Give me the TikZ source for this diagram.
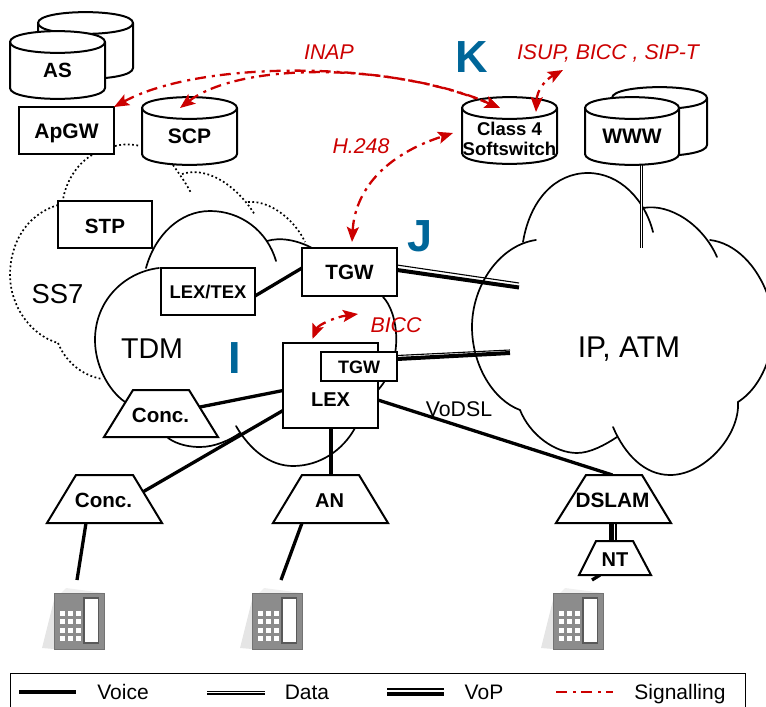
\documentclass[tikz,border=0pt]{standalone}
\usepackage{fontspec}
\setmainfont{Liberation Sans}
\usetikzlibrary{arrows.meta}
\pgfdeclarelayer{back}
\pgfsetlayers{back,main}
\definecolor{sigred}{HTML}{CC0000}
\definecolor{lblblue}{HTML}{006699}
\tikzset{
  boxnode/.style={draw=black,fill=white,line width=2pt,rectangle,inner sep=0pt,outer sep=0pt,minimum width=#1},
  cyltext/.style={inner sep=0pt,outer sep=0pt,minimum width=95pt,rectangle},
  traptext/.style={inner sep=0pt,outer sep=0pt,rectangle,minimum width=#1},
  trapline/.style={draw=black,fill=white,line width=2pt,line join=miter},
  bl/.style={text height=#1,text depth=0pt},
  bold/.style={font=\fontsize{#1}{#1}\selectfont\bfseries},
  cylline/.style={draw=black,fill=white,line width=2pt},
  cloudline/.style={draw=black,line width=1.7pt,line cap=round},
  ssline/.style={draw=black,line width=1.7pt,dash pattern=on 1.8pt off 2.5pt},
  voice/.style={draw=black,line width=#1},
  voice/.default=3.3pt,
  vopthick/.style={draw=black,line width=4pt},
  vopthin/.style={draw=black,line width=1.1pt},
  dataline/.style={draw=black,double=white,line width=1.2pt,double distance=1.2pt},
  signal/.style={draw=sigred,line width=2.3pt,dash pattern=on 11pt off 6pt on 3pt off 5pt,{Stealth[length=15pt,width=12pt,inset=3pt]}-{Stealth[length=15pt,width=12pt,inset=3pt]}},
  siglabel/.style={text=sigred,anchor=base,inner sep=0pt,font=\fontsize{21.3}{23}\selectfont\itshape},
  biglabel/.style={text=lblblue,anchor=base,inner sep=0pt,font=\fontsize{45}{47}\selectfont\bfseries},
  plainlabel/.style={anchor=base,inner sep=0pt,font=\fontsize{#1}{#1}\selectfont},
  phonebox/.style={inner sep=0pt,outer sep=0pt,minimum width=50pt,minimum height=70pt}
}
% x0 x1 ytop ybottom
\newcommand{\cylbody}[4]{%
  \path[cylline] (#1,#3) -- (#1,#4) .. controls (#1,#4+14.5) and (#2,#4+14.5) .. (#2,#4) -- (#2,#3)
     .. controls (#2,#3-14.5) and (#1,#3-14.5) .. (#1,#3) -- cycle;
  \draw[line width=2pt] (#1,#3) .. controls (#1,#3+14.5) and (#2,#3+14.5) .. (#2,#3);
}
% bottom-left x, bottom-right x, top-left x, top-right x, top y, bottom y
\newcommand{\trapbody}[6]{\path[trapline] (#1,#6) -- (#3,#5) -- (#4,#5) -- (#2,#6) -- cycle;}
\newcommand{\phoneshape}[1]{%
  \begin{scope}[shift={(#1,0)}]
    \fill[black!6] (66,588) -- (104,593) -- (54,600) -- cycle;
    \fill[black!10] (54,600) -- (54,649) -- (42,648) -- cycle;
    \fill[black!45] (54,593) rectangle (104,649);
    \draw[black!55,line width=1pt] (54,593) rectangle (104,649);
    \fill[white] (85,598) rectangle (98,643);
    \draw[black!65,line width=1.2pt] (84,598) rectangle (98.5,643);
    \foreach \kx in {60,68,76}{\foreach \ky in {611,619,628,636}{
      \fill[white] (\kx,\ky) rectangle +(5,4.5);}}
  \end{scope}}
\begin{document}
\begin{tikzpicture}[x=1pt,y=-1pt]
\useasboundingbox (0,0) rectangle (766,707);
% cylinders
\cylbody{38}{133}{23}{68}
\cylbody{10}{105}{42}{88}
\cylbody{142}{237}{108}{154}
\cylbody{462}{557}{108}{153}
\cylbody{612}{707}{98}{145}
\cylbody{585}{679}{108}{154}
\node[cyltext,bold=20.6,minimum height=46pt,bl=15pt] (as) at (57.5,69.5) {AS};
\node[cyltext,bold=21,minimum height=46pt,bl=15pt] (scp) at (189.5,135.5) {SCP};
\node[cyltext,bold=21,minimum height=46pt,bl=15pt] (www) at (632,135.5) {WWW};
\node[cyltext,minimum height=67pt,align=center,font=\fontsize{18.5}{20}\selectfont\bfseries] (class) at (509.5,139) {Class 4\\Softswitch};
% free ends
\coordinate (ipA) at (519,285);
\coordinate (ipB) at (510,351);
\coordinate (ipC) at (641.5,248);
\node[phonebox] (phoneA) at (79,615) {};
\node[phonebox] (phoneB) at (277,615) {};
\node[phonebox] (phoneC) at (578,615) {};
\phoneshape{0}\phoneshape{198}\phoneshape{499}
% boxes
\node[boxnode=95pt,minimum height=47pt,bold=21,bl=15pt] (apgw) at (66.5,130.5) {ApGW};
\node[boxnode=94pt,minimum height=47pt,bold=20.6,bl=17pt] (stp) at (105,224.5) {STP};
\node[boxnode=94pt,minimum height=47pt,bold=18.4,bl=14pt] (lextex) at (208,291) {LEX/TEX};
\node[boxnode=95pt,minimum height=48pt,bold=20.7,bl=14.5pt] (tgw) at (349.5,272) {TGW};
\node[boxnode=95pt,minimum height=85pt,bold=20,bl=41pt] (lex) at (330.5,385.5) {LEX};
\node[boxnode=76pt,minimum height=29pt,bold=18,bl=14.5pt] (tgwi) at (359,366.5) {TGW};
% trapezoids
\trapbody{104}{218}{133}{189}{390}{437}
\trapbody{47}{162}{76}{133}{475}{523}
\trapbody{273}{388}{302}{359}{475}{523}
\trapbody{556}{671}{586}{642}{475}{523}
\trapbody{579}{651}{596}{633}{541}{575}
\node[traptext=114pt,minimum height=47pt,bold=20.6,bl=17pt] (conc) at (160.5,413.5) {Conc.};
\node[traptext=115pt,minimum height=48pt,bold=20.6,bl=16pt] (concb) at (103.5,499) {Conc.};
\node[traptext=115pt,minimum height=48pt,bold=20,bl=16pt] (an) at (329.5,499) {AN};
\node[traptext=115pt,minimum height=48pt,bold=20.8,bl=16pt] (dslam) at (612.5,499) {DSLAM};
\node[traptext=72pt,minimum height=34pt,bold=20,bl=16pt] (nt) at (615,558) {NT};
\begin{pgfonlayer}{back}
% SS7 dotted cloud
\draw[ssline] (92,155) .. controls (75,165) and (65,185) .. (63,200);
\draw[ssline] (58,205) .. controls (25,215) and (10,245) .. (10,275) .. controls (10,305) and (30,335) .. (58,343);
\draw[ssline] (58,343) .. controls (65,360) and (80,375) .. (102,379);
\draw[ssline] (115,146) .. controls (122,144) and (132,144) .. (140,146);
\draw[ssline] (173,165) .. controls (180,175) and (186,183) .. (191,193);
\draw[ssline] (182,174) .. controls (210,165) and (240,190) .. (255,215);
\draw[ssline] (248,202) .. controls (270,200) and (295,220) .. (305,242);
% TDM cloud
\draw[cloudline] (159,268) .. controls (125,272) and (95,300) .. (95,340) .. controls (95,365) and (108,390) .. (125,402);
\draw[cloudline] (146,268) .. controls (155,235) and (180,211) .. (210,211) .. controls (240,211) and (267,230) .. (276,261);
\draw[cloudline] (267,241) .. controls (280,237) and (297,240) .. (312,248);
\draw[cloudline] (383,297) .. controls (398,312) and (405,360) .. (378,390);
\draw[cloudline] (236,426) .. controls (250,450) and (270,466) .. (293,466) .. controls (320,466) and (343,450) .. (355,428);
\draw[cloudline] (168,438) .. controls (178,445) and (190,447) .. (200,447) .. controls (215,447) and (230,440) .. (240,433);
% IP cloud
\draw[cloudline] (536,240) .. controls (500,245) and (472,285) .. (472,327) .. controls (472,365) and (493,400) .. (520,410);
\draw[cloudline] (520,410) .. controls (530,435) and (555,453) .. (577,453) .. controls (590,453) and (605,445) .. (617,437);
\draw[cloudline] (613,427) .. controls (625,455) and (645,475) .. (670,475) .. controls (705,475) and (740,435) .. (738,402);
\draw[cloudline] (738,402) .. controls (752,393) and (762,378) .. (768,360);
\draw[cloudline] (710,240) .. controls (735,243) and (757,265) .. (768,296);
\draw[cloudline] (643,208) .. controls (670,203) and (703,225) .. (717,257);
\draw[cloudline] (523,242) .. controls (530,200) and (555,173) .. (588,173) .. controls (620,173) and (645,200) .. (653,232);
% voice
\draw[voice] ([yshift=-5pt]lextex.east) -- ([yshift=4pt]tgw.west);
\draw[voice] ([xshift=-20pt,yshift=6pt]conc.east) -- ([yshift=-5pt]lex.west);
\draw[voice] ([xshift=-20pt,yshift=6pt]concb.east) -- ([yshift=-25pt]lex.west);
\draw[voice=4pt] ([xshift=1pt]an.north) -- (lex.south);
\draw[voice] ([yshift=-14.5pt]lex.east) -- (dslam.north);
\draw[voice] ([xshift=-17.5pt]concb.south) -- ([xshift=-2pt]phoneA.north);
\draw[voice] ([xshift=-27.5pt]an.south) -- ([xshift=4pt]phoneB.north);
\draw[voice] ([xshift=-15pt]nt.south) -- ([xshift=14pt]phoneC.north);
% VoP
\draw[vopthick] ([yshift=2pt]tgw.east) -- ([yshift=-2.5pt]ipA);
\draw[vopthin] ([yshift=7pt]tgw.east) -- ([yshift=2pt]ipA);
\draw[vopthick] ([yshift=7.5pt]tgwi.east) -- ([yshift=-2pt]ipB);
\draw[vopthin] ([yshift=11pt]tgwi.east) -- ([yshift=1pt]ipB);
\draw[line width=5pt] ([xshift=-1pt]dslam.south) -- ([xshift=-1pt]dslam.south |- nt.north);
\draw[vopthin] ([xshift=3.5pt]dslam.south) -- ([xshift=3.5pt]dslam.south |- nt.north);
% Data
\draw[dataline] ([xshift=9.5pt]www.south) -- (ipC);
\end{pgfonlayer}
% signalling
\coordinate (scpTip) at (180,108);
\coordinate (bTip) at (358,314);
\coordinate (h2) at (453,133);
\coordinate (i1) at (536,112);
\coordinate (i2) at (563,70);
\draw[signal] (apgw.north east) .. controls (200,60) and (390,60) .. (500,108);
\draw[signal] (scpTip) .. controls (240,62) and (390,62) .. (500,108);
\draw[signal] ([xshift=2.5pt,yshift=6pt]tgw.north) .. controls (355,190) and (385,155) .. (h2);
\draw[signal] (i1) .. controls (537,90) and (545,80) .. (i2);
\draw[signal] ([xshift=-18pt,yshift=4pt]lex.north) .. controls (318,325) and (335,317) .. (bTip);
% labels
\node[siglabel] (inap) at (329,59) {INAP};
\node[siglabel] (isup) at (608,59) {ISUP, BICC , SIP-T};
\node[siglabel] (h248) at (361,153) {H.248};
\node[siglabel] (bicc) at (396,332) {BICC};
\node[biglabel] (kk) at (472,72) {K};
\node[biglabel] (jj) at (420,251) {J};
\node[biglabel] (ii) at (235,373) {I};
\node[plainlabel=27.4] (ss7) at (57.5,303) {SS7};
\node[plainlabel=28.6] (tdm) at (152,358) {TDM};
\node[plainlabel=30] (ipatm) at (629,357) {IP, ATM};
\node[plainlabel=21.3] (vodsl) at (459,416) {VoDSL};
% legend
\draw[black,line width=1pt] (10,712) -- (10,673) -- (745,673) -- (745,712);
\draw[line width=4pt] (19,692) -- (76,692);
\draw[dataline] (207,692.7) -- (265,692.7);
\draw[vopthick] (387,693.5) -- (444,693.5);
\draw[vopthin] (387,689) -- (444,689);
\draw[draw=sigred,line width=2.3pt,dash pattern=on 11pt off 6pt on 3pt off 5pt] (556,692) -- (613,692);
\node[plainlabel=21] (lv) at (123,699) {Voice};
\node[plainlabel=21] (ld) at (307,699) {Data};
\node[plainlabel=21] (lp) at (484,699) {VoP};
\node[plainlabel=21] (ls) at (680,699) {Signalling};
\end{tikzpicture}
\end{document}
